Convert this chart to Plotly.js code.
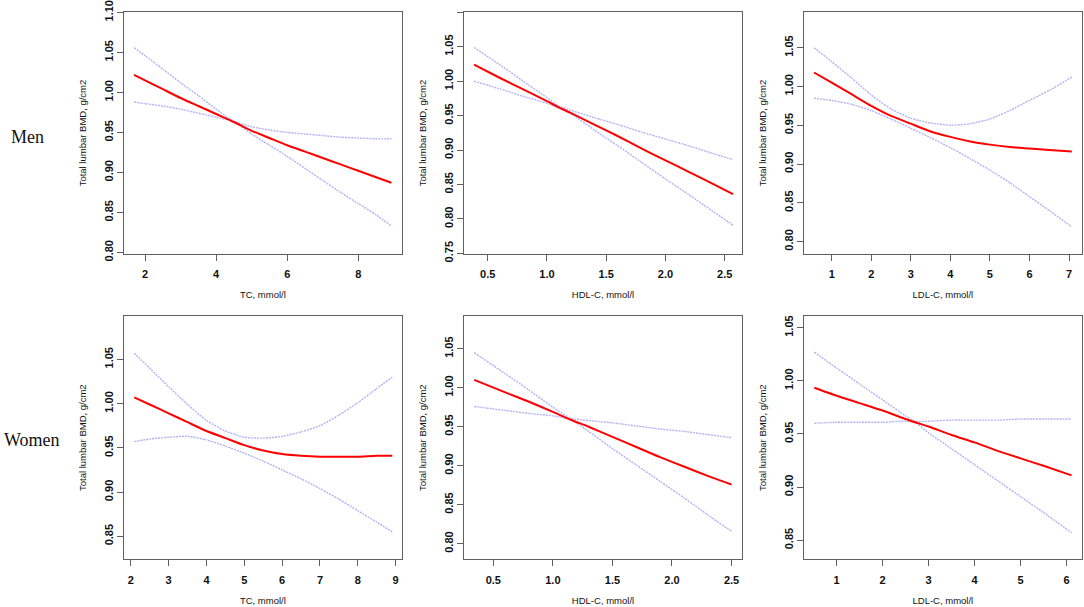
<!DOCTYPE html>
<html>
<head>
<meta charset="utf-8">
<script src="https://cdn.plot.ly/plotly-3.0.1.min.js"></script>
<style>html,body{margin:0;padding:0;background:#fff;}#chart{width:1084px;height:607px;}</style>
</head>
<body>
<div id="chart"></div>
<script>
// ---- Men, TC ----
var tcMenX     = [1.69, 2, 2.5, 3, 3.5, 4, 4.5, 5, 5.5, 6, 6.5, 7, 7.5, 8, 8.5, 8.93];
var tcMenFit   = [1.022, 1.015, 1.004, 0.993, 0.983, 0.973, 0.963, 0.952, 0.943, 0.934, 0.926, 0.918, 0.910, 0.902, 0.894, 0.887];
var tcMenUpper = [1.056, 1.046, 1.029, 1.012, 0.996, 0.979, 0.964, 0.957, 0.953, 0.950, 0.948, 0.946, 0.944, 0.943, 0.942, 0.942];
var tcMenLower = [0.988, 0.986, 0.983, 0.979, 0.974, 0.969, 0.963, 0.948, 0.934, 0.920, 0.905, 0.890, 0.875, 0.861, 0.847, 0.833];
// ---- Men, HDL-C ----
var hdlMenX     = [0.385, 0.6, 0.8, 1.0, 1.1, 1.2, 1.4, 1.6, 1.8, 2.0, 2.2, 2.4, 2.57];
var hdlMenFit   = [1.024, 1.005, 0.988, 0.971, 0.962, 0.954, 0.937, 0.920, 0.902, 0.885, 0.868, 0.851, 0.836];
var hdlMenUpper = [1.049, 1.024, 1.000, 0.976, 0.964, 0.958, 0.947, 0.937, 0.926, 0.916, 0.906, 0.895, 0.886];
var hdlMenLower = [1.000, 0.989, 0.978, 0.968, 0.961, 0.953, 0.929, 0.906, 0.882, 0.858, 0.835, 0.811, 0.791];
// ---- Men, LDL-C ----
var ldlMenX     = [0.553, 1, 1.5, 2, 2.5, 3, 3.5, 4, 4.5, 5, 5.5, 6, 6.5, 7.07];
var ldlMenFit   = [1.018, 1.005, 0.990, 0.975, 0.962, 0.952, 0.942, 0.935, 0.929, 0.925, 0.922, 0.920, 0.918, 0.916];
var ldlMenUpper = [1.050, 1.032, 1.011, 0.989, 0.971, 0.959, 0.953, 0.950, 0.952, 0.958, 0.969, 0.982, 0.995, 1.012];
var ldlMenLower = [0.985, 0.982, 0.977, 0.969, 0.958, 0.946, 0.934, 0.921, 0.907, 0.892, 0.876, 0.858, 0.840, 0.819];
// ---- Women, TC ----
var tcWomenX     = [2.09, 2.5, 3, 3.5, 4, 4.5, 5, 5.5, 6, 6.5, 7, 7.5, 8, 8.5, 8.91];
var tcWomenFit   = [1.007, 0.999, 0.989, 0.979, 0.969, 0.961, 0.953, 0.947, 0.943, 0.941, 0.940, 0.940, 0.940, 0.941, 0.941];
var tcWomenUpper = [1.057, 1.040, 1.019, 0.999, 0.981, 0.969, 0.962, 0.961, 0.963, 0.968, 0.975, 0.987, 1.001, 1.017, 1.030];
var tcWomenLower = [0.957, 0.960, 0.962, 0.963, 0.959, 0.952, 0.944, 0.935, 0.925, 0.915, 0.904, 0.892, 0.879, 0.866, 0.855];
// ---- Women, HDL-C ----
var hdlWomenX     = [0.34, 0.6, 0.8, 1.0, 1.15, 1.3, 1.5, 1.7, 1.9, 2.1, 2.3, 2.5];
var hdlWomenFit   = [1.010, 0.994, 0.982, 0.969, 0.959, 0.950, 0.937, 0.924, 0.911, 0.899, 0.887, 0.876];
var hdlWomenUpper = [1.045, 1.018, 0.997, 0.975, 0.961, 0.958, 0.955, 0.951, 0.947, 0.944, 0.940, 0.936];
var hdlWomenLower = [0.976, 0.971, 0.967, 0.964, 0.959, 0.944, 0.922, 0.901, 0.880, 0.859, 0.837, 0.816];
// ---- Women, LDL-C ----
var ldlWomenX     = [0.514, 1, 1.5, 2, 2.5, 2.7, 3, 3.5, 4, 4.5, 5, 5.5, 6.11];
var ldlWomenFit   = [0.9935, 0.986, 0.979, 0.972, 0.964, 0.961, 0.957, 0.949, 0.942, 0.934, 0.927, 0.920, 0.911];
var ldlWomenUpper = [1.027, 1.012, 0.997, 0.982, 0.967, 0.962, 0.962, 0.963, 0.963, 0.963, 0.964, 0.964, 0.964];
var ldlWomenLower = [0.960, 0.961, 0.961, 0.961, 0.962, 0.961, 0.951, 0.936, 0.921, 0.906, 0.891, 0.876, 0.857];

var xTitles = ["TC, mmol/l", "HDL-C, mmol/l", "LDL-C, mmol/l", "TC, mmol/l", "HDL-C, mmol/l", "LDL-C, mmol/l"];
var yTitle = "Total lumbar BMD, g/cm2";
var rowLabels = ["Men", "Women"];

var panels = [
  {x: tcMenX, fit: tcMenFit, up: tcMenUpper, lo: tcMenLower},
  {x: hdlMenX, fit: hdlMenFit, up: hdlMenUpper, lo: hdlMenLower},
  {x: ldlMenX, fit: ldlMenFit, up: ldlMenUpper, lo: ldlMenLower},
  {x: tcWomenX, fit: tcWomenFit, up: tcWomenUpper, lo: tcWomenLower},
  {x: hdlWomenX, fit: hdlWomenFit, up: hdlWomenUpper, lo: hdlWomenLower},
  {x: ldlWomenX, fit: ldlWomenFit, up: ldlWomenUpper, lo: ldlWomenLower}
];

// layout geometry (pixels of a 1084x607 canvas)
var W = 1084, H = 607;
var colPx = [[124, 401.7], [464, 742], [804, 1081.7]];
var rowPx = [[12, 254], [316, 559.3]];
var xRanges = [[1.408, 9.22], [0.30, 2.646], [0.30, 7.32], [1.82, 9.16], [0.254, 2.588], [0.289, 6.33]];
var yRanges = [[0.798, 1.1005], [0.749, 1.1005], [0.784, 1.096], [0.824, 1.099], [0.780, 1.092], [0.832, 1.061]];
var xDticks = [2, 0.5, 1, 1, 0.5, 1];
var xFormats = ["d", ".1f", "d", "d", ".1f", "d"];

var ciColor = "#b2b2f6";
var traces = [];
var layout = {
  width: W, height: H,
  margin: {l: 0, r: 0, t: 0, b: 0},
  paper_bgcolor: "#ffffff",
  plot_bgcolor: "#ffffff",
  showlegend: false,
  font: {family: "Liberation Sans, Arial, sans-serif", color: "#111"},
  annotations: []
};

panels.forEach(function(p, i) {
  var n = i + 1;
  var xa = "x" + (n === 1 ? "" : n), ya = "y" + (n === 1 ? "" : n);
  var common = {xaxis: xa, yaxis: ya, mode: "lines", hoverinfo: "skip"};
  traces.push(Object.assign({}, common, {x: p.x, y: p.up, line: {color: ciColor, width: 1.4, dash: "2px,1px", shape: "spline", smoothing: 0.6}}));
  traces.push(Object.assign({}, common, {x: p.x, y: p.lo, line: {color: ciColor, width: 1.4, dash: "2px,1px", shape: "spline", smoothing: 0.6}}));
  traces.push(Object.assign({}, common, {x: p.x, y: p.fit, line: {color: "#ff0000", width: 2, shape: "spline", smoothing: 0.6}}));

  var col = i % 3, row = Math.floor(i / 3);
  var axBase = {
    showline: true, mirror: true, linecolor: "#606060", linewidth: 1,
    showgrid: false, zeroline: false,
    ticks: "outside", ticklen: 6, tickcolor: "#606060", tickwidth: 1,
    tickfont: {family: "Liberation Sans, Arial, sans-serif", size: 11, color: "#111", weight: "bold"},
    fixedrange: true
  };
  layout["xaxis" + (n === 1 ? "" : n)] = Object.assign({}, axBase, {
    domain: [colPx[col][0] / W, colPx[col][1] / W],
    anchor: ya,
    range: xRanges[i],
    tickmode: "linear", tick0: 0, dtick: xDticks[i], tickformat: xFormats[i],
    ticklabelstandoff: 4,
    title: {text: xTitles[i], font: {size: 9.5, color: "#111"}, standoff: 12}
  });
  layout["yaxis" + (n === 1 ? "" : n)] = Object.assign({}, axBase, {
    domain: [1 - rowPx[row][1] / H, 1 - rowPx[row][0] / H],
    anchor: xa,
    range: yRanges[i],
    tickmode: "linear", tick0: 0, dtick: 0.05, tickformat: ".2f",
    tickangle: -90,
    title: {text: yTitle, font: {size: 9.5, color: "#111"}, standoff: 14}
  });
});

layout.annotations.push({
  text: rowLabels[0], xref: "paper", yref: "paper", x: 9 / W, y: 1 - 136.5 / H,
  xanchor: "left", yanchor: "middle", showarrow: false,
  font: {family: "Liberation Serif, Times New Roman, serif", size: 18, color: "#111"}
});
layout.annotations.push({
  text: rowLabels[1], xref: "paper", yref: "paper", x: 2 / W, y: 1 - 440 / H,
  xanchor: "left", yanchor: "middle", showarrow: false,
  font: {family: "Liberation Serif, Times New Roman, serif", size: 18, color: "#111"}
});

Plotly.newPlot("chart", traces, layout, {staticPlot: true, displayModeBar: false});
</script>
</body>
</html>
